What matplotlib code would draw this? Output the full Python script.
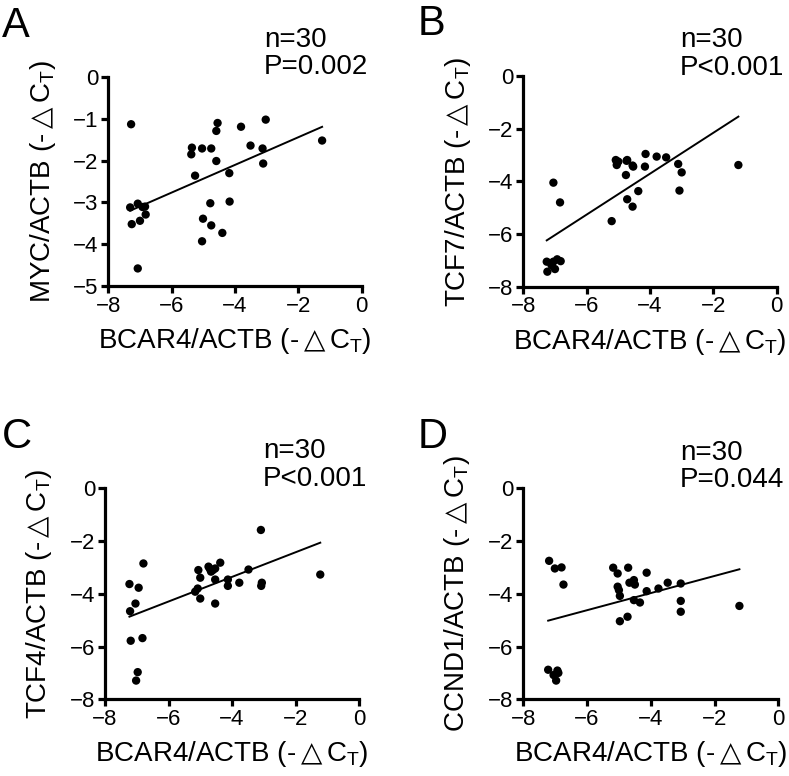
import numpy as np
import matplotlib
matplotlib.use("Agg")
import matplotlib.pyplot as plt

plt.rcParams['font.family'] = ['Liberation Sans', 'DejaVu Sans']
plt.rcParams['mathtext.fontset'] = 'custom'
plt.rcParams['mathtext.rm'] = 'Liberation Sans'
plt.rcParams['mathtext.it'] = 'Liberation Sans:italic'
plt.rcParams['mathtext.bf'] = 'Liberation Sans:bold'
plt.rcParams['mathtext.sf'] = 'DejaVu Sans'
plt.rcParams['mathtext.fallback'] = 'cm'

# ---------------- data ----------------
a_x = [-7.28, -7.31, -7.26, -7.07, -7.00, -6.92, -6.84, -6.82, -7.07,
       -5.26, -5.36, -5.38, -5.04, -4.75, -4.55, -4.59, -4.59, -4.18, -4.17,
       -4.78, -5.01, -4.75, -4.40, -5.04,
       -3.81, -3.51, -3.13, -3.11, -3.03, -1.25]
a_y = [-1.13, -3.12, -3.52, -3.03, -3.44, -3.11, -3.10, -3.29, -4.58,
       -2.36, -1.69, -1.85, -1.71, -1.71, -1.10, -1.29, -2.01, -2.30, -2.98,
       -3.02, -3.39, -3.55, -3.73, -3.93,
       -1.19, -1.64, -1.71, -2.07, -1.02, -1.52]

b_x = [-7.24, -7.26, -7.05, -6.93, -6.82, -7.00, -7.05, -6.84, -7.11,
       -5.21, -5.08, -5.05, -5.00, -4.72, -4.76, -4.72, -4.55, -4.53, -4.37,
       -4.16, -4.14, -5.04, -4.55, -4.74,
       -3.79, -3.49, -3.11, -3.00, -3.07, -1.21]
b_y = [-7.43, -7.05, -7.05, -6.96, -7.03, -7.33, -4.05, -4.80, -7.18,
       -5.51, -3.19, -3.38, -3.25, -3.19, -3.76, -4.68, -4.96, -3.44, -4.37,
       -3.44, -2.96, -3.30, -3.40, -3.22,
       -3.06, -3.09, -3.34, -3.66, -4.35, -3.38]

c_x = [-7.23, -6.94, -7.04, -7.21, -6.79, -7.19, -6.82, -6.97, -7.02,
       -5.06, -5.00, -5.16, -5.08, -5.00, -4.74, -4.66, -4.53, -4.53, -4.53,
       -4.37, -4.13, -4.13, -3.77, -4.70, -4.60,
       -3.48, -3.09, -3.06, -3.08, -1.22]
c_y = [-3.63, -3.77, -4.37, -4.66, -2.85, -5.78, -5.68, -6.97, -7.29,
       -3.10, -3.39, -3.92, -3.80, -4.18, -2.97, -3.16, -3.04, -3.46, -4.37,
       -2.82, -3.46, -3.70, -3.58, -3.05, -3.10,
       -3.08, -1.58, -3.58, -3.70, -3.27]

d_x = [-7.19, -7.01, -6.80, -6.74, -7.22, -6.93, -6.97, -7.05, -6.90,
       -5.18, -5.04, -5.04, -4.97, -4.97, -4.71, -4.73, -4.67, -4.53, -4.50,
       -4.53, -4.34, -4.13, -4.13, -5.00,
       -3.76, -3.47, -3.06, -3.06, -3.06, -1.22]
d_y = [-2.75, -3.04, -3.00, -3.65, -6.88, -6.91, -7.29, -7.08, -7.00,
       -3.01, -3.23, -3.73, -4.08, -5.04, -3.01, -4.87, -3.58, -3.48, -3.65,
       -4.24, -4.33, -3.20, -3.90, -3.86,
       -3.80, -3.58, -3.61, -4.27, -4.68, -4.46]

panel_letters = ['A', 'B', 'C', 'D']
y_genes = ['MYC', 'TCF7', 'TCF4', 'CCND1']
n_texts = ['n=30', 'n=30', 'n=30', 'n=30']
p_texts = ['P=0.002', 'P<0.001', 'P<0.001', 'P=0.044']
y_mins = [-5, -8, -8, -8]
y_steps = [1, 2, 2, 2]
x_ticks = [-8, -6, -4, -2, 0]

xs = [a_x, b_x, c_x, d_x]
ys = [a_y, b_y, c_y, d_y]

# ---------------- layout ----------------
W, H = 789, 776
fig = plt.figure(figsize=(W / 100, H / 100), dpi=100)

def rect(l, r, t, b):
    return [l / W, 1 - b / H, (r - l) / W, (b - t) / H]

rects = [rect(108.3, 361.7, 77, 286),
         rect(523.3, 776.7, 76, 286.7),
         rect(105, 359, 488.3, 699.3),
         rect(523.3, 778.3, 488.3, 699.3)]
letter_pos = [(2, 37), (418, 35), (2, 448), (418, 448)]
text_pos = [(264, 47, 74), (680, 47, 75), (263, 458, 486), (680, 460, 487)]

tri = r'$\mathsf{\triangle}$'
ct = r'C$_{\rm T}$)'
xlabel = 'BCAR4/ACTB (-' + tri + ct

for i in range(4):
    ax = fig.add_axes(rects[i])
    x = np.array(xs[i])
    y = np.array(ys[i])
    ax.scatter(x, y, s=36, color='black', edgecolors='none', zorder=3)
    k, b0 = np.polyfit(x, y, 1)
    xl = np.array([x.min(), x.max()])
    ax.plot(xl, k * xl + b0, color='black', lw=1.4, zorder=2)

    ax.set_xlim(-8, 0)
    ax.set_ylim(y_mins[i], 0)
    ax.set_xticks(x_ticks)
    ax.set_yticks(np.arange(y_mins[i], 0.01, y_steps[i]))
    for s in ['top', 'right']:
        ax.spines[s].set_visible(False)
    for s in ['left', 'bottom']:
        ax.spines[s].set_linewidth(2.3)
    ax.tick_params(axis='both', direction='out', length=5, width=2.3,
                   labelsize=16, pad=2)
    ax.set_xlabel(xlabel, fontsize=20)
    ax.set_ylabel(y_genes[i] + '/ACTB (-' + tri + ct, fontsize=20)
    ax.xaxis.set_label_coords(0.5, -0.19)
    ax.yaxis.set_label_coords(-0.20, 0.5)

    lx, ly = letter_pos[i]
    fig.text(lx / W, 1 - ly / H, panel_letters[i], fontsize=30, va='baseline', ha='left')
    tx, ty1, ty2 = text_pos[i]
    fig.text(tx / W, 1 - ty1 / H, n_texts[i], fontsize=20, va='baseline', ha='left')
    fig.text(tx / W, 1 - ty2 / H, p_texts[i], fontsize=20, va='baseline', ha='left')

fig.savefig('out.png', dpi=100)
